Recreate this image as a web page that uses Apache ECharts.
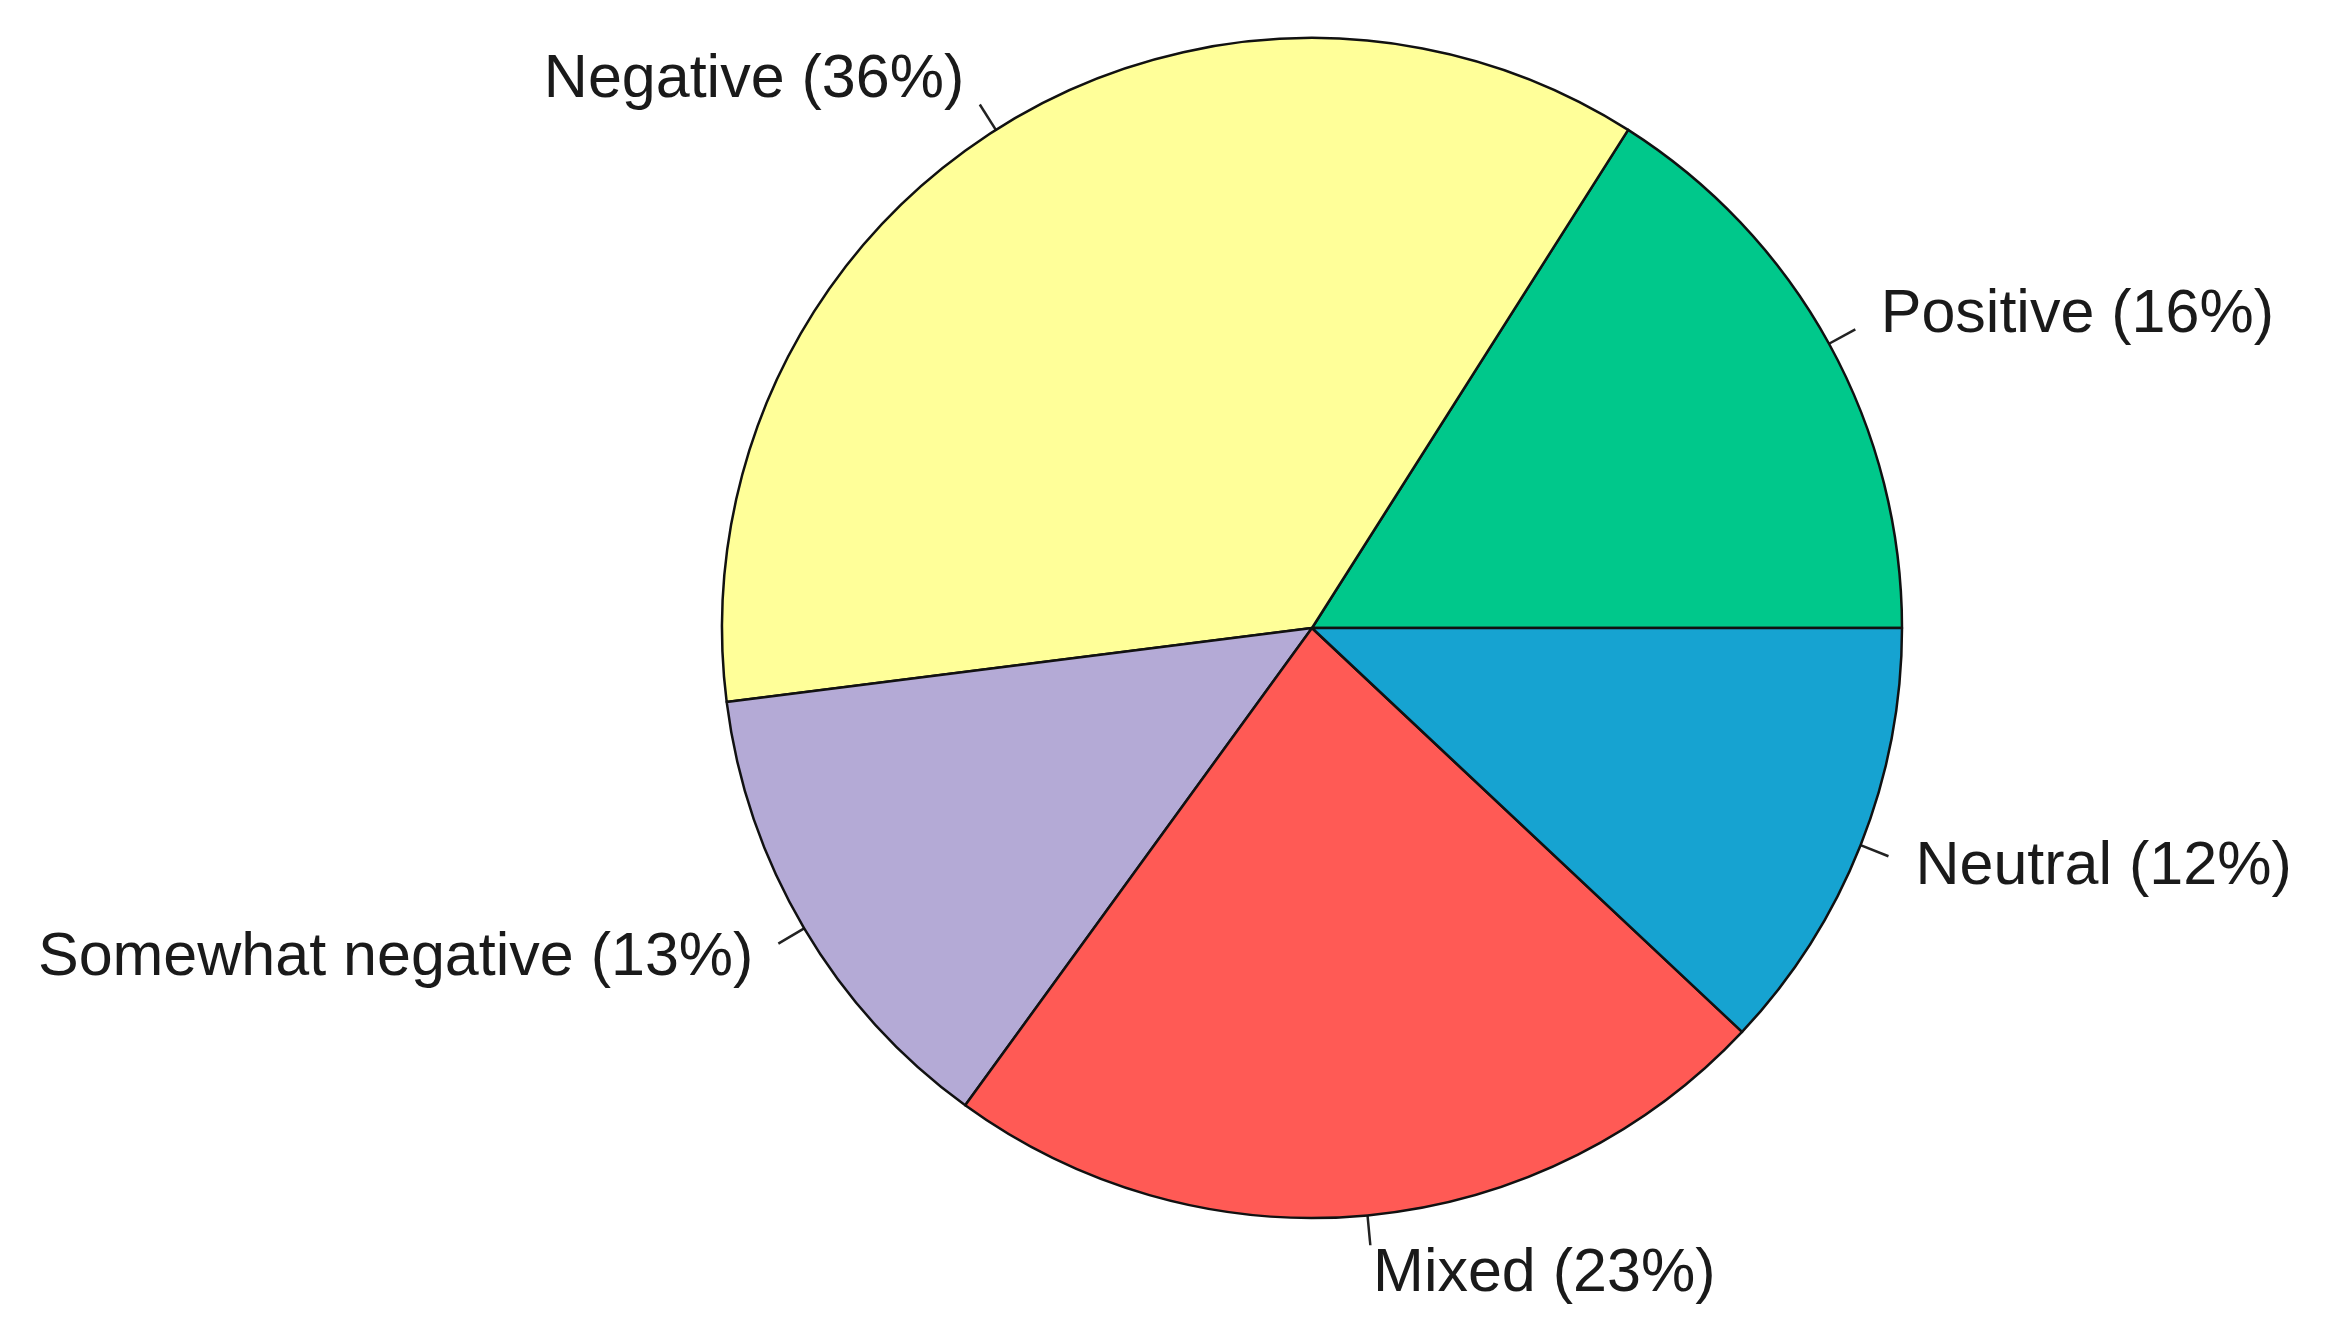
<!DOCTYPE html>
<html>
<head>
<meta charset="utf-8">
<script src="https://cdn.jsdelivr.net/npm/echarts@6/dist/echarts.min.js"></script>
<style>
html,body{margin:0;padding:0;background:#fff;}
#chart{width:2327px;height:1328px;}
</style>
</head>
<body>
<div id="chart"></div>
<script>
const categories = ['Positive', 'Negative', 'Somewhat negative', 'Mixed', 'Neutral'];
const values = [16, 36, 13, 23, 12];
const colors = ['#00C88B', '#FFFF99', '#B4AAD6', '#FF5A55', '#16A3D1'];

const pieData = categories.map((c, i) => ({ name: c, value: values[i], itemStyle: { color: colors[i] } }));
const R = 590;
const center = [1312, 628];

const chart = echarts.init(document.getElementById('chart'), null, { renderer: 'canvas' });
chart.setOption({
  backgroundColor: '#ffffff',
  animation: false,
  series: [
    {
      type: 'pie',
      center: center,
      radius: [0, R],
      startAngle: 0,
      clockwise: false,
      avoidLabelOverlap: false,
      emphasis: { disabled: true },
      itemStyle: { borderColor: '#111', borderWidth: 2.5 },
      label: { show: true, formatter: ' ', fontSize: 1, position: 'outside', distanceToLabelLine: 0 },
      labelLine: { show: true, length: 30, length2: 0, smooth: false, lineStyle: { color: '#222', width: 2.5 } },
      data: pieData
    },
    {
      type: 'pie',
      center: center,
      radius: [0, R],
      startAngle: 0,
      clockwise: false,
      silent: true,
      avoidLabelOverlap: false,
      emphasis: { disabled: true },
      itemStyle: { color: 'rgba(0,0,0,0)', borderWidth: 0 },
      label: {
        show: true,
        position: 'outside',
        distanceToLabelLine: 0,
        formatter: p => p.name + ' (' + p.value + '%)',
        fontFamily: 'Liberation Sans, Arial, sans-serif',
        fontSize: 61,
        color: '#1a1a1a'
      },
      labelLine: { show: false, length: 59, length2: 0 },
      data: pieData.map(d => ({ name: d.name, value: d.value }))
    }
  ]
});
</script>
</body>
</html>
